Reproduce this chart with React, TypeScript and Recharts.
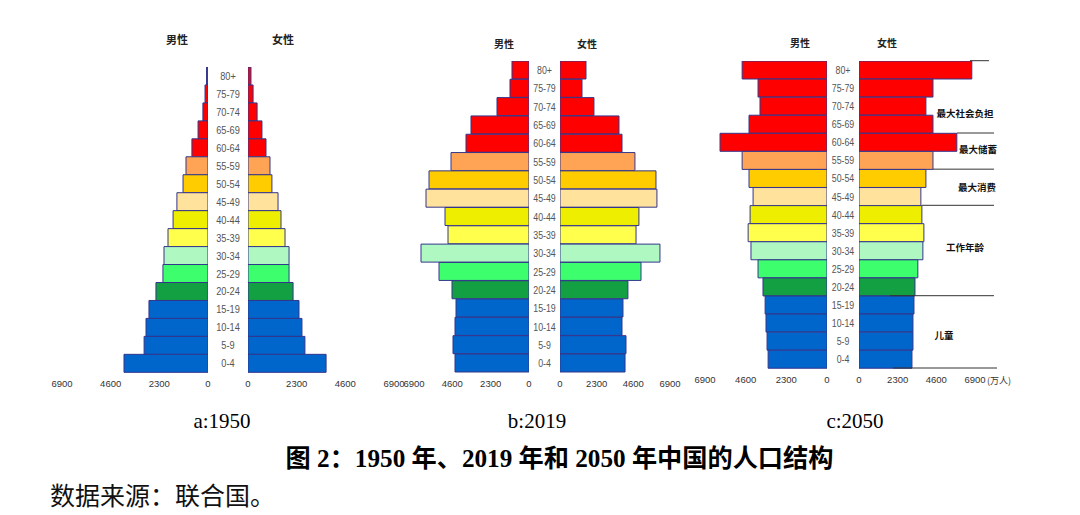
import React from "react";
import { BarChart, Bar, XAxis, YAxis, Cell } from "recharts";

// ---------- data ----------
const ageGroups = ["0-4", "5-9", "10-14", "15-19", "20-24", "25-29", "30-34", "35-39", "40-44", "45-49", "50-54", "55-59", "60-64", "65-69", "70-74", "75-79", "80+"];
const ageColors = ["#0066CC", "#0066CC", "#0066CC", "#0066CC", "#13A042", "#3DFF6E", "#B0F8C2", "#FFFF4C", "#EEEE00", "#FFE29C", "#FFCC00", "#FFA454", "#FF0000", "#FF0000", "#FF0000", "#FF0000", "#FF0000"];
const axisTicks = [0, 2300, 4600, 6900];

const male1950 = [3970, 3020, 2930, 2790, 2460, 2130, 2080, 1890, 1650, 1470, 1180, 1040, 760, 470, 240, 140, 70];
const female1950 = [3690, 2690, 2550, 2410, 2130, 1940, 1940, 1750, 1560, 1420, 1130, 1040, 850, 660, 430, 240, 140];
const male2019 = [4440, 4560, 4440, 4380, 4620, 5400, 6480, 4860, 5040, 6180, 6000, 4680, 3780, 3480, 1920, 1140, 1020];
const female2019 = [4080, 4140, 3890, 3950, 4260, 5080, 6270, 4770, 4950, 6080, 6020, 4700, 3890, 3700, 2130, 1380, 1630];
const male2050 = [3330, 3390, 3450, 3500, 3620, 3900, 4300, 4460, 4350, 4180, 4410, 4800, 6050, 4410, 3790, 3900, 4800];
const female2050 = [3150, 3210, 3210, 3270, 3330, 3500, 3800, 3860, 3740, 3680, 3980, 4400, 5820, 4400, 3980, 4400, 6710];

const captions = ["a:1950", "b:2019", "c:2050"];
const titleText = "图 2：1950 年、2019 年和 2050 年中国的人口结构";
const sourceText = "数据来源：联合国。";

// annotations of the 2050 pyramid (boundary index counted in age groups from the top, start/end in 万人)
const annBoundary = [0, 4, 6, 8, 13, 17];
const annStart = [6600, 5830, 4400, 3750, 1840, 2020];
const annEnd = [7730, 8030, 8030, 8030, 8030, 8210];
const annLabels = ["最大社会负担", "最大储蓄", "最大消费", "工作年龄", "儿童"];

// ---------- layout ----------
const AXIS_MAX = 6900;
const AXIS_H = 22;
const STROKE = "#33358C";
const NARROW = "'Liberation Sans Narrow', 'Liberation Sans', Arial, sans-serif";
const CJK = "'Noto Sans CJK SC', 'Noto Sans', sans-serif";
const SERIF = "'Liberation Serif', 'Times New Roman', 'Noto Sans CJK SC', serif";

const panels = [
  { male: male1950, female: female1950, maleZero: 208, maleFull: 62, femaleZero: 248, femaleFull: 394, top: 66.7, bottom: 372, headerY: 44, mhx: 177, fhx: 283, headerSize: 11, ageSize: 11, capX: 222 },
  { male: male2019, female: female2019, maleZero: 529, maleFull: 414, femaleZero: 560, femaleFull: 670, top: 60.7, bottom: 372, headerY: 47.5, mhx: 504, fhx: 587, headerSize: 10, ageSize: 10.5, capX: 537 },
  { male: male2050, female: female2050, maleZero: 827, maleFull: 705, femaleZero: 859, femaleFull: 975, top: 60.7, bottom: 368, headerY: 46.5, mhx: 800, fhx: 887, headerSize: 10, ageSize: 10.5, capX: 855 },
];
const annLabelPos = [
  { x: 965, y: 117 },
  { x: 978, y: 153 },
  { x: 977, y: 191 },
  { x: 965, y: 251 },
  { x: 944, y: 339 },
];

function buildData(male: number[], female: number[]) {
  return ageGroups
    .map((age, i) => ({ age, male: male[i], female: female[i], color: ageColors[i] }))
    .reverse();
}

const tickStyle = { fontSize: 9.5, fill: "#333", fontFamily: "'Liberation Sans', Arial, sans-serif" };

function Pyramid({ p }: { p: (typeof panels)[number] }) {
  const data = buildData(p.male, p.female);
  const h = p.bottom - p.top + AXIS_H;
  const mL = 24;
  const mR = 8;
  const mW = p.maleZero - p.maleFull;
  const fW = p.femaleFull - p.femaleZero;
  const gap = p.femaleZero - p.maleZero;
  return (
    <>
      <div style={{ position: "absolute", left: p.maleFull - mL, top: p.top }}>
        <BarChart width={mW + mL + mR} height={h} data={data} layout="vertical" margin={{ top: 0, right: mR, bottom: 0, left: mL }} barCategoryGap={0} barGap={0}>
          <XAxis type="number" domain={[0, AXIS_MAX]} ticks={axisTicks} reversed height={AXIS_H} axisLine={false} tickLine={false} interval={0} tick={tickStyle} allowDataOverflow />
          <YAxis type="category" dataKey="age" hide />
          <Bar dataKey="male" isAnimationActive={false} stroke={STROKE} strokeWidth={1}>
            {data.map((d, i) => (
              <Cell key={i} fill={d.color} />
            ))}
          </Bar>
        </BarChart>
      </div>
      <div style={{ position: "absolute", left: p.maleZero, top: p.top }}>
        <BarChart width={gap + fW + mL} height={h} data={data} layout="vertical" margin={{ top: 0, right: mL, bottom: 0, left: 0 }} barCategoryGap={0} barGap={0}>
          <XAxis type="number" domain={[0, AXIS_MAX]} ticks={axisTicks} height={AXIS_H} axisLine={false} tickLine={false} interval={0} tick={tickStyle} allowDataOverflow />
          <YAxis
            type="category"
            dataKey="age"
            width={gap}
            axisLine={false}
            tickLine={false}
            interval={0}
            tick={(t: any) => (
              <text transform={`translate(${gap / 2},${t.y + 4}) scale(0.84,1)`} x={0} y={0} textAnchor="middle" fontSize={p.ageSize} fill="#555" fontFamily={NARROW}>
                {t.payload.value}
              </text>
            )}
          />
          <Bar dataKey="female" isAnimationActive={false} stroke={STROKE} strokeWidth={1}>
            {data.map((d, i) => (
              <Cell key={i} fill={d.color} />
            ))}
          </Bar>
        </BarChart>
      </div>
    </>
  );
}

export default function App() {
  const pc = panels[2];
  const band = (pc.bottom - pc.top) / ageGroups.length;
  const xc = (v: number) => pc.femaleZero + (v / AXIS_MAX) * (pc.femaleFull - pc.femaleZero);
  return (
    <div style={{ position: "absolute", left: 0, top: 0, width: 1080, height: 515, background: "#fff", overflow: "hidden" }}>
      {panels.map((p, i) => (
        <Pyramid key={i} p={p} />
      ))}
      <svg width={1080} height={515} style={{ position: "absolute", left: 0, top: 0, pointerEvents: "none" }}>
        {panels.map((p, i) => (
          <g key={i} fontFamily={CJK} fontWeight="bold" fontSize={p.headerSize} fill="#222" textAnchor="middle">
            <text x={p.mhx} y={p.headerY}>男性</text>
            <text x={p.fhx} y={p.headerY}>女性</text>
          </g>
        ))}
        {annBoundary.map((k, i) => {
          const y = pc.top + k * band;
          return <line key={i} x1={xc(annStart[i])} x2={xc(annEnd[i])} y1={y} y2={y} stroke="#333" strokeWidth={1} />;
        })}
        {annLabels.map((t, i) => (
          <text key={i} x={annLabelPos[i].x} y={annLabelPos[i].y} textAnchor="middle" fontFamily={CJK} fontWeight="bold" fontSize={9.5} fill="#111">
            {t}
          </text>
        ))}
        <text x={999} y={383.5} textAnchor="middle" fontFamily={CJK} fontSize={9} fill="#333">(万人)</text>
        {captions.map((c, i) => (
          <text key={i} x={panels[i].capX} y={428} textAnchor="middle" fontFamily={SERIF} fontSize={21} fill="#000">
            {c}
          </text>
        ))}
        <text x={559.5} y={467} textAnchor="middle" fontFamily={SERIF} fontWeight="bold" fontSize={25.2} fill="#000">
          {titleText}
        </text>
        <text x={50} y={505} fontFamily={CJK} fontSize={25} fill="#111">
          {sourceText}
        </text>
      </svg>
    </div>
  );
}
